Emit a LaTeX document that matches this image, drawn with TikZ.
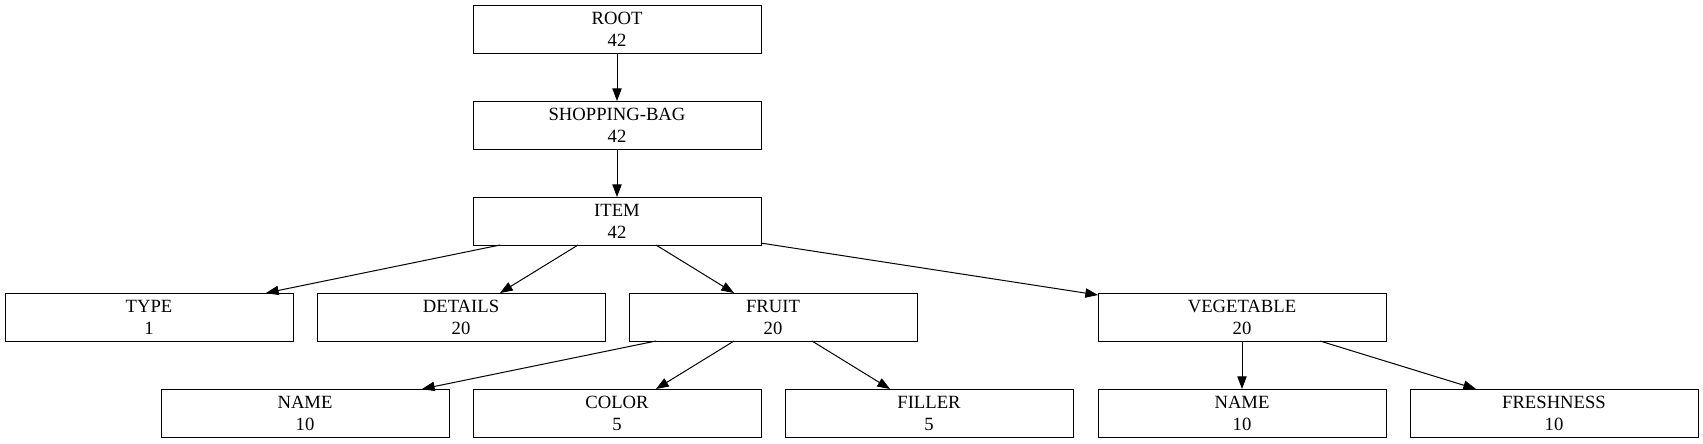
\documentclass[tikz,border=0pt]{standalone}
\usepackage{fontspec}
\setmainfont{Liberation Serif}
\usetikzlibrary{arrows.meta}

\begin{document}
\begin{tikzpicture}[x=0.75pt,y=-0.75pt,
        field/.style={rectangle,draw,line width=0.75pt,minimum width=216pt,minimum height=36pt,
                      inner sep=0pt,outer sep=0pt,align=center,font=\fontsize{14}{16.5}\selectfont},
        link/.style={line width=0.75pt,arrows=-{Triangle[length=9.5pt,width=7pt]}}]

            %\draw [help lines,step=100] (0,0) grid (1703,443);
            \useasboundingbox (0,0) rectangle (1703,443);

            \path   (617,29)  node (root) [field] {ROOT\\42}
                    (617,125) node (bag)  [field] {SHOPPING-BAG\\42}
                    (617,221) node (item) [field] {ITEM\\42};

            \path   (149,317)  node (type)    [field] {TYPE\\1}
                    (461,317)  node (details) [field] {DETAILS\\20}
                    (773,317)  node (fruit)   [field] {FRUIT\\20}
                    (1242,317) node (veg)     [field] {VEGETABLE\\20};

            \path   (305,413)  node (fname)  [field] {NAME\\10}
                    (617,413)  node (color)  [field] {COLOR\\5}
                    (929,413)  node (filler) [field] {FILLER\\5}
                    (1242,413) node (vname)  [field] {NAME\\10}
                    (1554,413) node (fresh)  [field] {FRESHNESS\\10};

            \draw[link] (root) -- (bag);
            \draw[link] (bag) -- (item);
            \draw[link] (item) -- (type);
            \draw[link] (item) -- (details);
            \draw[link] (item) -- (fruit);
            \draw[link] (item) -- (veg);
            \draw[link] (fruit) -- (fname);
            \draw[link] (fruit) -- (color);
            \draw[link] (fruit) -- (filler);
            \draw[link] (veg) -- (vname);
            \draw[link] (veg) -- (fresh);
        \end{tikzpicture}
\end{document}
